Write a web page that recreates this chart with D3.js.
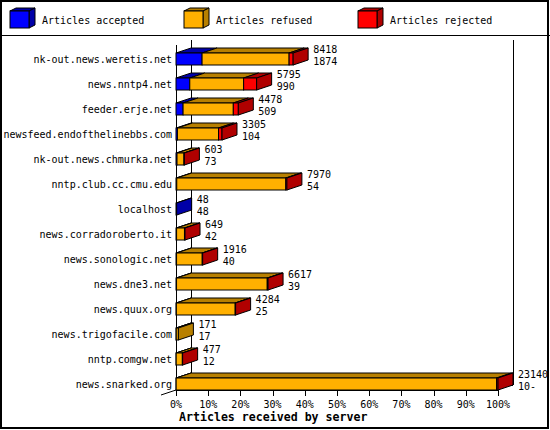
<!DOCTYPE html>
<html>
<head>
<meta charset="utf-8">
<script src="https://cdn.jsdelivr.net/npm/d3@7"></script>
<style>
	body { margin: 0; background: #fff; }
	svg { display: block; }
	text { font-family: "DejaVu Sans Mono", monospace; font-size: 10px; fill: #000; }
	.title { font-weight: bold; font-size: 11.6px; }
	.shape { shape-rendering: crispEdges; }
</style>
</head>
<body>
<div id="chart"><svg></svg></div>
<script>
//Servers, top to bottom.
const servers = ['nk-out.news.weretis.net', 'news.nntp4.net', 'feeder.erje.net',
	'newsfeed.endofthelinebbs.com', 'nk-out.news.chmurka.net', 'nntp.club.cc.cmu.edu',
	'localhost', 'news.corradoroberto.it', 'news.sonologic.net', 'news.dne3.net',
	'news.quux.org', 'news.trigofacile.com', 'nntp.comgw.net', 'news.snarked.org'];
//Articles offered (upper label) and accepted (lower label).
const offered = [8418, 5795, 4478, 3305, 603, 7970, 48, 649, 1916, 6617, 4284, 171, 477, 23140];
const accepted = [1874, 990, 509, 104, 73, 54, 48, 42, 40, 39, 25, 17, 12, 10];
const acceptedText = ['1874', '990', '509', '104', '73', '54', '48', '42', '40', '39', '25', '17', '12', '10-'];
//Rejected counts are estimated from the bar lengths; refused is the rest.
const rejected = [290, 935, 360, 250, 30, 80, 0, 40, 30, 60, 30, 0, 20, 100];
const refused = offered.map((d, i) => d - accepted[i] - rejected[i]);
//Legend.
const seriesNames = ['Articles accepted', 'Articles refused', 'Articles rejected'];
const frontColors = ['#0000ff', '#ffb000', '#ff0000'];
const darkColors = ['#0000a8', '#b88000', '#b00000'];
const tickValues = [0, 10, 20, 30, 40, 50, 60, 70, 80, 90, 100];

const width = 550, height = 430;
const depth = {x: 15, y: 5};
const svg = d3.select('#chart').select('svg')
	.attr('width', width)
	.attr('height', height);

//Frame and legend separator.
svg.append('rect').attr('class', 'shape')
	.attr('x', 1).attr('y', 1).attr('width', 547).attr('height', 427)
	.style('fill', 'none').style('stroke', '#000').style('stroke-width', 2);
svg.append('line').attr('class', 'shape')
	.attr('x1', 0).attr('x2', width).attr('y1', 35.5).attr('y2', 35.5)
	.style('stroke', '#000');

//Legend cubes.
const legend = svg.selectAll('g.legend')
	.data(seriesNames)
	.join('g')
	.attr('class', 'legend')
	.attr('transform', (d, i) => `translate(${[10, 184, 358][i]}, 11)`);
legend.append('polygon')
	.attr('points', '0,0 6,-3 25,-3 19,0')
	.style('fill', (d, i) => darkColors[i]).style('stroke', '#000');
legend.append('polygon')
	.attr('points', '19,0 25,-3 25,14 19,17')
	.style('fill', (d, i) => darkColors[i]).style('stroke', '#000');
legend.append('rect')
	.attr('width', 19).attr('height', 17)
	.style('fill', (d, i) => frontColors[i]).style('stroke', '#000');
legend.append('text')
	.text(d => d)
	.attr('x', 32).attr('y', 9)
	.attr('dominant-baseline', 'central');

//Scales.
const x = d3.scaleLinear().domain([0, d3.max(offered)]).range([176, 498]);
const pct = d3.scaleLinear().domain([0, 100]).range([176, 498]);
const y = d3.scaleBand().domain(servers).range([40, 390]);

//Walls and floor.
const walls = svg.append('g').attr('class', 'shape').style('stroke', '#000');
walls.append('line').attr('x1', 176.5).attr('x2', 176.5).attr('y1', 45).attr('y2', 390);
walls.append('line').attr('x1', 191.5).attr('x2', 191.5).attr('y1', 40).attr('y2', 385);
walls.append('line').attr('x1', 513.5).attr('x2', 513.5).attr('y1', 40).attr('y2', 385);
walls.append('line').attr('x1', 191).attr('x2', 513).attr('y1', 385.5).attr('y2', 385.5);
walls.append('line').attr('x1', 161).attr('x2', 191).attr('y1', 395).attr('y2', 385)
	.style('shape-rendering', 'auto');
walls.append('line').attr('x1', 176).attr('x2', 498).attr('y1', 390.5).attr('y2', 390.5);

//Bars.
servers.forEach((s, i) => {
	const vals = [accepted[i], refused[i], rejected[i]];
	const top = y(s) + 13;
	const g = svg.append('g');
	let start = 0, last = 0;
	const segs = vals.map((v, k) => {
		const seg = {k, x0: x(start), x1: x(start + v), v};
		start += v;
		if (v > 0) last = k;
		return seg;
	}).filter(d => d.v > 0);
	g.selectAll('polygon.top')
		.data(segs)
		.join('polygon')
		.attr('points', d => [[d.x0, top], [d.x0 + depth.x, top - depth.y],
			[d.x1 + depth.x, top - depth.y], [d.x1, top]].join(' '))
		.style('fill', d => darkColors[d.k]).style('stroke', '#000');
	g.selectAll('rect')
		.data(segs)
		.join('rect')
		.attr('x', d => d.x0).attr('y', top)
		.attr('width', d => d.x1 - d.x0).attr('height', 12)
		.style('fill', d => frontColors[d.k]).style('stroke', '#000');
	const xe = x(offered[i]);
	g.append('polygon')
		.attr('points', [[xe, top], [xe + depth.x, top - depth.y],
			[xe + depth.x, top + 12 - depth.y], [xe, top + 12]].join(' '))
		.style('fill', darkColors[last]).style('stroke', '#000');
	//Category label and counts.
	svg.append('text').text(s)
		.attr('x', 172).attr('y', top + 6)
		.attr('text-anchor', 'end').attr('dominant-baseline', 'central');
	svg.append('text').text(offered[i])
		.attr('x', xe + depth.x + 5).attr('y', top - 4)
		.attr('dominant-baseline', 'central');
	svg.append('text').text(acceptedText[i])
		.attr('x', xe + depth.x + 5).attr('y', top + 8)
		.attr('dominant-baseline', 'central');
});

//X axis ticks and labels.
const ticks = svg.append('g');
ticks.selectAll('line')
	.data(tickValues)
	.join('line').attr('class', 'shape')
	.attr('x1', d => Math.round(pct(d)) + 0.5).attr('x2', d => Math.round(pct(d)) + 0.5)
	.attr('y1', 390).attr('y2', 396)
	.style('stroke', '#000');
ticks.selectAll('text')
	.data(tickValues)
	.join('text')
	.text(d => `${d}%`)
	.attr('x', d => pct(d)).attr('y', 404)
	.attr('text-anchor', 'middle').attr('dominant-baseline', 'central');
svg.append('text')
	.text('Articles received by server')
	.attr('class', 'title')
	.attr('x', 179).attr('y', 417)
	.attr('dominant-baseline', 'central');
</script>
</body>
</html>
